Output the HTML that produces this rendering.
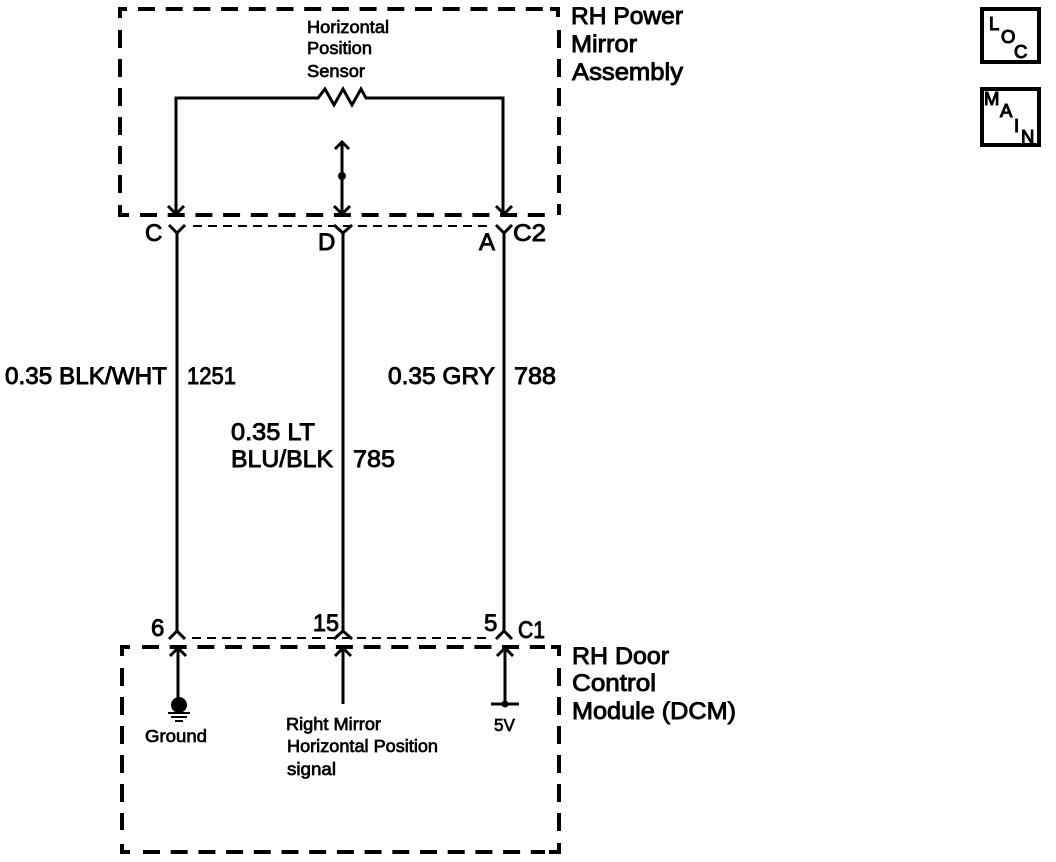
<!DOCTYPE html>
<html>
<head>
<meta charset="utf-8">
<style>
html,body{margin:0;padding:0;background:#fff;width:1056px;height:862px;overflow:hidden}
svg{display:block}
text{font-family:"Liberation Sans",sans-serif;fill:#000;stroke:#000}
.b{font-size:24px;stroke-width:.9px}
.s{font-size:17.5px;stroke-width:.7px}
.i{font-size:18.5px;stroke-width:1.1px}
</style>
</head>
<body>
<svg width="1056" height="862" viewBox="0 0 1056 862" xmlns="http://www.w3.org/2000/svg">
<g fill="none" stroke="#000" stroke-width="4">
<!-- top box -->
<path d="M120 18V9H127"/>
<path d="M138 9H555" stroke-dasharray="17 10.7"/>
<path d="M550 9H558V17"/>
<path d="M559 30V215" stroke-dasharray="18 11"/>
<path d="M120 30V200" stroke-dasharray="18 11"/>
<path d="M120 205V215H129"/>
<path d="M140 215H552" stroke-dasharray="17 10.7"/>
<!-- bottom box -->
<path d="M122 656V647H130"/>
<path d="M142 647H545" stroke-dasharray="17 10.7"/>
<path d="M551 647H559V656"/>
<path d="M559 668V840" stroke-dasharray="18 11"/>
<path d="M122 668V830" stroke-dasharray="18 11"/>
<path d="M122 844V852H130"/>
<path d="M143 852H545" stroke-dasharray="17 10.7"/>
<path d="M549 852H559V843"/>
<!-- icon boxes -->
<rect x="982" y="9" width="57" height="53"/>
<rect x="982" y="89" width="57" height="56"/>
</g>
<g fill="none" stroke="#000" stroke-width="2">
<path d="M193 226H490" stroke-dasharray="9 6"/>
<path d="M192 638H490" stroke-dasharray="9 6"/>
</g>
<g fill="none" stroke="#000" stroke-width="3">
<!-- sensor -->
<path d="M176 214V98H318L325 89L334 105L343 89L352 105L361 89L366 98H503V214"/>
<path d="M342 142V214"/>
<path d="M335 149L342 142L349 149"/>
<!-- top arrows -->
<path d="M168 206L176 214L184 206"/>
<path d="M334 206L342 214L350 206"/>
<path d="M496 206L504 214L512 206"/>
<!-- connector Y -->
<path d="M169 225L177 233L185 225M177 233V631M169 639L177 631L185 639"/>
<path d="M334 225L343 233L352 225M343 233V631M334 639L343 631L352 639"/>
<path d="M496 225L504 233L512 225M504 233V631M496 639L504 631L512 639"/>
<!-- bottom arrows -->
<path d="M170 656L178 648L186 656M178 648V698"/>
<path d="M335 656L343 648L351 656M343 648V704"/>
<path d="M497 656L505 648L513 656M505 648V704"/>
<path d="M491 704H519"/>
</g>
<circle cx="342" cy="176" r="4"/>
<circle cx="505" cy="704" r="3.5"/>
<circle cx="179" cy="705" r="8"/>
<g stroke="#000" stroke-width="2">
<path d="M168 713H190M171 717H187M175 721H183"/>
</g>
<text class="s" x="307" y="33" textLength="82" lengthAdjust="spacingAndGlyphs">Horizontal</text>
<text class="s" x="307" y="54" textLength="65" lengthAdjust="spacingAndGlyphs">Position</text>
<text class="s" x="307" y="77" textLength="58" lengthAdjust="spacingAndGlyphs">Sensor</text>
<text class="b" x="571" y="24" textLength="112" lengthAdjust="spacingAndGlyphs">RH Power</text>
<text class="b" x="571" y="52" textLength="66" lengthAdjust="spacingAndGlyphs">Mirror</text>
<text class="b" x="572" y="80" textLength="111" lengthAdjust="spacingAndGlyphs">Assembly</text>
<text class="b" x="145" y="241">C</text>
<text class="b" x="318" y="250">D</text>
<text class="b" x="479" y="250">A</text>
<text class="b" x="513" y="241" textLength="33" lengthAdjust="spacingAndGlyphs">C2</text>
<text class="b" x="5" y="384" textLength="162" lengthAdjust="spacingAndGlyphs">0.35 BLK/WHT</text>
<text class="b" x="187" y="384" textLength="49" lengthAdjust="spacingAndGlyphs">1251</text>
<text class="b" x="388" y="384" textLength="107" lengthAdjust="spacingAndGlyphs">0.35 GRY</text>
<text class="b" x="514" y="384" textLength="42" lengthAdjust="spacingAndGlyphs">788</text>
<text class="b" x="231" y="440" textLength="84" lengthAdjust="spacingAndGlyphs">0.35 LT</text>
<text class="b" x="231" y="467" textLength="102" lengthAdjust="spacingAndGlyphs">BLU/BLK</text>
<text class="b" x="353" y="467" textLength="42" lengthAdjust="spacingAndGlyphs">785</text>
<text class="b" x="151" y="636">6</text>
<text class="b" x="313" y="631" textLength="26" lengthAdjust="spacingAndGlyphs">15</text>
<text class="b" x="484" y="631">5</text>
<text class="b" x="518" y="638" textLength="27" lengthAdjust="spacingAndGlyphs">C1</text>
<text class="b" x="572" y="664" textLength="97" lengthAdjust="spacingAndGlyphs">RH Door</text>
<text class="b" x="572" y="691" textLength="84" lengthAdjust="spacingAndGlyphs">Control</text>
<text class="b" x="572" y="719" textLength="164" lengthAdjust="spacingAndGlyphs">Module (DCM)</text>
<text class="s" x="145" y="742" textLength="62" lengthAdjust="spacingAndGlyphs">Ground</text>
<text class="s" x="494" y="731" textLength="21" lengthAdjust="spacingAndGlyphs">5V</text>
<text class="s" x="286" y="730" textLength="95" lengthAdjust="spacingAndGlyphs">Right Mirror</text>
<text class="s" x="287" y="752" textLength="151" lengthAdjust="spacingAndGlyphs">Horizontal Position</text>
<text class="s" x="287" y="775" textLength="49" lengthAdjust="spacingAndGlyphs">signal</text>
<text class="i" x="989" y="30">L</text>
<text class="i" x="1001" y="43">O</text>
<text class="i" x="1014" y="58">C</text>
<text class="i" x="984" y="105">M</text>
<text class="i" x="1000" y="117">A</text>
<text class="i" x="1014" y="132">I</text>
<text class="i" x="1021" y="143">N</text>
</svg>
</body>
</html>
